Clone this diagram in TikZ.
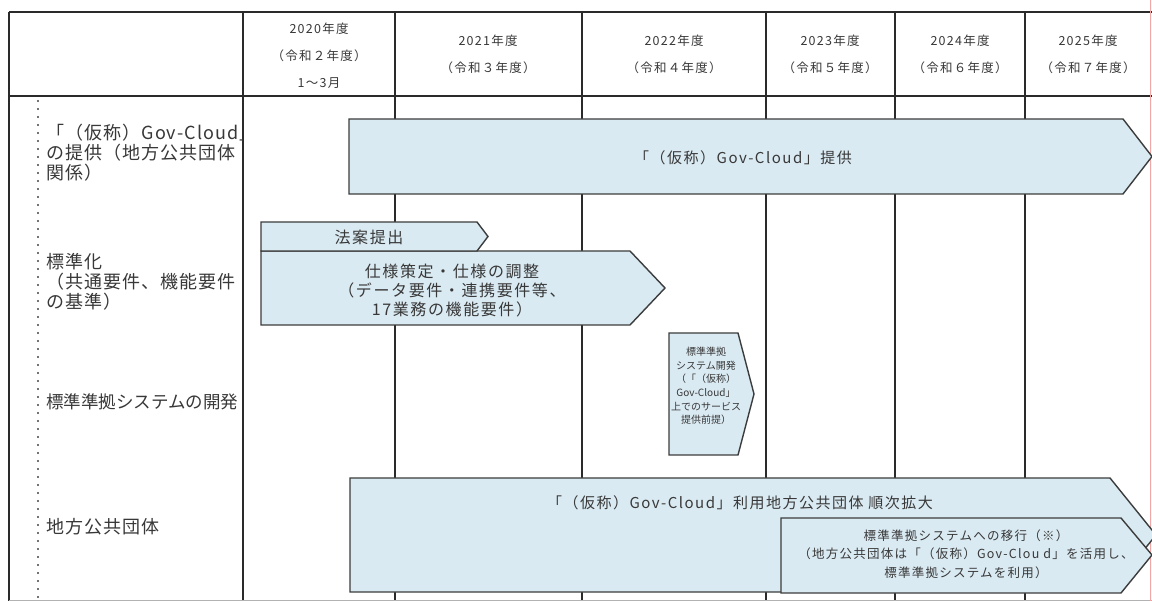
\documentclass[tikz,border=0pt]{standalone}
\usepackage{fontspec}
\setmainfont{Noto Sans CJK JP}
\newfontfamily\jpw[LetterSpace=10]{Noto Sans CJK JP}
\newfontfamily\jpl[LetterSpace=6]{Noto Sans CJK JP}
\definecolor{arrowfill}{HTML}{DAEAF2}
\definecolor{edgegray}{HTML}{3C3C3C}
\definecolor{textgray}{HTML}{383838}
\definecolor{gridgray}{HTML}{2A2A2A}
\definecolor{edgered}{HTML}{F2A6A6}
\begin{document}
\begin{tikzpicture}[x=1pt,y=-1pt,
  grid/.style={draw=gridgray,line width=1.8pt},
  chevron/.style={draw=edgegray,fill=arrowfill,line width=1.4pt,line join=miter},
  lbl/.style={anchor=west,inner sep=0pt,text=textgray,font=\jpl\fontsize{18}{20}\selectfont,align=left},
  hdr/.style={inner sep=0pt,text=textgray,font=\jpw\fontsize{12.5}{14}\selectfont},
  atext/.style={inner sep=0pt,text=textgray,align=center},
]
\useasboundingbox (0,0) rectangle (1152,601);
\fill[white] (0,0) rectangle (1152,601);
% dotted guide line in the label column
\draw[black!55,line width=2pt,dash pattern=on 2pt off 6pt] (38,100) -- (38,601);
% grid vertical lines
\foreach \x in {9,243,395,582,766,895,1025} \draw[grid] (\x,12) -- (\x,601);
% header lines
\draw[grid] (9,12) -- (1152,12);
\draw[grid] (9,96) -- (1152,96);
\draw[gray!60,line width=1pt] (9,600) -- (1152,600);
\draw[edgered,line width=1pt] (1150.5,0) -- (1150.5,601);
% header texts
\node[hdr] (h20a) at (319,29) {2020年度};
\node[hdr] (h20b) at (319,56) {（令和２年度）};
\node[hdr] (h20c) at (319,83) {1～3月};
\node[hdr] (h21a) at (488,41) {2021年度};
\node[hdr] (h21b) at (488,68) {（令和３年度）};
\node[hdr] (h22a) at (674,41) {2022年度};
\node[hdr] (h22b) at (674,68) {（令和４年度）};
\node[hdr] (h23a) at (830,41) {2023年度};
\node[hdr] (h23b) at (830,68) {（令和５年度）};
\node[hdr] (h24a) at (960,41) {2024年度};
\node[hdr] (h24b) at (960,68) {（令和６年度）};
\node[hdr] (h25a) at (1088,41) {2025年度};
\node[hdr] (h25b) at (1088,68) {（令和７年度）};
% row labels (clipped by the label column)
\begin{scope}
\clip (10,97) rectangle (242,601);
\node[lbl] (l1) at (46,153) {「（仮称）Gov-Cloud」\\の提供（地方公共団体\\関係）};
\node[lbl] (l2) at (46,282) {標準化\\（共通要件、機能要件\\の基準）};
\node[lbl,font=\fontsize{17.5}{20}\selectfont] (l3) at (46,402) {標準準拠システムの開発};
\node[lbl] (l4) at (46,527) {地方公共団体};
\end{scope}
% chevrons
\draw[chevron] (349,119) -- (1123,119) -- (1152,156.5) -- (1123,194) -- (349,194) -- cycle;
\node[atext,font=\jpw\fontsize{15}{18}\selectfont] (t1) at (743,158) {「（仮称）Gov-Cloud」提供};
\draw[chevron] (261,251) -- (630,251) -- (665,288) -- (630,325) -- (261,325) -- cycle;
\node[atext,font=\jpw\fontsize{16}{19}\selectfont] (t3) at (452,291) {仕様策定・仕様の調整\\（データ要件・連携要件等、\\17業務の機能要件）};
\draw[chevron] (261,222) -- (477,222) -- (488,236.5) -- (477,251) -- (261,251) -- cycle;
\node[atext,font=\jpw\fontsize{16}{19}\selectfont] (t2) at (369,237) {法案提出};
\draw[chevron] (669,333) -- (738,333) -- (754,394) -- (738,455) -- (669,455) -- cycle;
\node[atext,font=\fontsize{10}{13.6}\selectfont] (t4) at (706,386) {標準準拠\\システム開発\\（「（仮称）\\Gov-Cloud」\\上でのサービス\\提供前提）};
\draw[chevron] (350,478) -- (1110,478) -- (1156,535) -- (1110,592) -- (350,592) -- cycle;
\node[atext,font=\jpw\fontsize{15}{18}\selectfont] (t5) at (740,503) {「（仮称）Gov-Cloud」利用地方公共団体 順次拡大};
\draw[chevron] (781,518) -- (1121,518) -- (1152,555) -- (1121,593) -- (781,593) -- cycle;
\node[atext,font=\jpw\fontsize{12.5}{18.5}\selectfont] (t6) at (966,554) {標準準拠システムへの移行（※）\\（地方公共団体は「（仮称）Gov-Clou d」を活用し、\\標準準拠システムを利用）};
\end{tikzpicture}
\end{document}
